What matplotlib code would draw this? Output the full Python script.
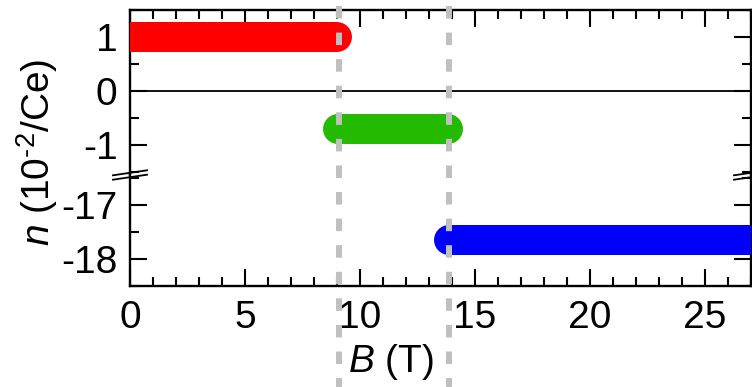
import matplotlib
matplotlib.use("Agg")
import matplotlib.pyplot as plt
from matplotlib.lines import Line2D
from matplotlib.ticker import MultipleLocator
import matplotlib.transforms as mtransforms

plt.rcParams['font.family'] = ['Liberation Sans', 'DejaVu Sans']
plt.rcParams['axes.unicode_minus'] = False
plt.rcParams['mathtext.fontset'] = 'custom'
plt.rcParams['mathtext.rm'] = 'Liberation Sans'
plt.rcParams['mathtext.it'] = 'Liberation Sans:italic'

# Field ranges (T) of each plateau and its carrier density (1e-2 per Ce)
seg_start = [0.0, 9.05, 13.86]
seg_end = [9.0, 13.83, 27.0]
seg_n = [1.0, -0.7, -17.65]
seg_colors = ['#ff0000', '#22bb00', '#0000ff']
transitions = [9.1, 13.86]

x_range = (0, 27)
top_range = (-1.55, 1.5)
bot_range = (-18.5, -16.45)

W, H = 752, 387
fig = plt.figure(figsize=(W / 100, H / 100), dpi=100)

left_px, right_px = 130, 751
top_px, break_px, bottom_px = 10, 175, 286

def fy(py):
    return 1 - py / H

ax_top = fig.add_axes([left_px / W, fy(break_px), (right_px - left_px) / W,
                       fy(top_px) - fy(break_px)])
ax_bot = fig.add_axes([left_px / W, fy(bottom_px), (right_px - left_px) / W,
                       fy(break_px) - fy(bottom_px)])

ax_top.set_ylim(*top_range)
ax_bot.set_ylim(*bot_range)

for ax in (ax_top, ax_bot):
    ax.set_xlim(*x_range)
    ax.xaxis.set_major_locator(MultipleLocator(5))
    ax.xaxis.set_minor_locator(MultipleLocator(1))
    ax.yaxis.set_major_locator(MultipleLocator(1))
    ax.yaxis.set_minor_locator(MultipleLocator(0.5))
    ax.tick_params(which='both', direction='in', width=1.5, labelsize=28,
                   left=True, right=True)
    ax.tick_params(which='major', length=12.2)
    ax.tick_params(which='minor', length=6.2)
    ax.tick_params(axis='y', pad=9)
    ax.tick_params(axis='x', pad=10)
    for sp in ax.spines.values():
        sp.set_linewidth(1.7)

ax_top.spines['bottom'].set_visible(False)
ax_bot.spines['top'].set_visible(False)
ax_top.tick_params(axis='x', which='both', bottom=False, top=True, labelbottom=False)
ax_bot.tick_params(axis='x', which='both', top=False, bottom=True)

ax_top.axhline(0, color='black', lw=1.3, zorder=1)

for x0, x1, n, c in zip(seg_start, seg_end, seg_n, seg_colors):
    ax = ax_top if n > top_range[0] else ax_bot
    ax.plot([x0, x1], [n, n], color=c, lw=21.6, solid_capstyle='round', zorder=3)

# Transition fields: dashed guides spanning the full figure height
blend = mtransforms.blended_transform_factory(ax_bot.transData, fig.transFigure)
for xt in transitions:
    fig.add_artist(Line2D([xt, xt], [fy(6), 0], transform=blend, color='#c0c0c0',
                          lw=4.3, linestyle=(0, (2.1, 2.35)), zorder=5))

# Axis-break marks on both vertical spines
for sx in (left_px, right_px):
    for dy in (-2.2, 2.2):
        xs = [(sx - 17) / W, (sx + 17) / W]
        ys = [fy(break_px + dy + 2.5), fy(break_px + dy - 2.5)]
        fig.add_artist(Line2D(xs, ys, transform=fig.transFigure, color='black',
                              lw=1.3, zorder=6, clip_on=False))

fig.text(391 / W, fy(362), r'$\it{B}$ (T)', fontsize=28, ha='center', va='center')
fig.text(37 / W, fy(152), r'$\it{n}$ (10$^{\text{-2}}$/Ce)', fontsize=28,
         rotation=90, ha='center', va='center')

fig.savefig('out.png', dpi=100)
